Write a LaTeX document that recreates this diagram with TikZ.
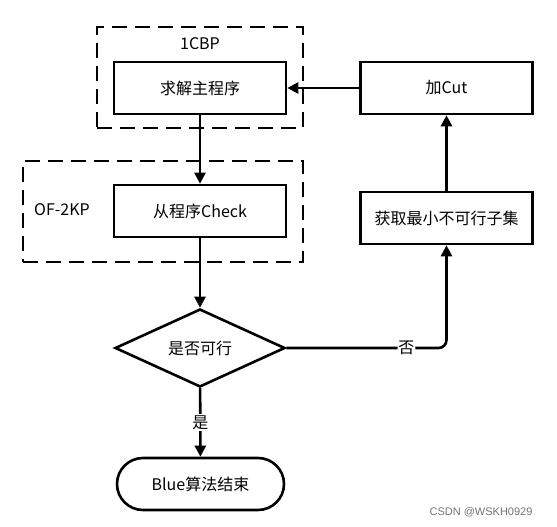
\documentclass[tikz,border=0pt]{standalone}
\usepackage{fontspec}
\setmainfont{Noto Sans CJK SC}
\newfontfamily\wmfont{Liberation Sans}
\usetikzlibrary{shapes.geometric,shapes.misc,arrows.meta}
\begin{document}
\begin{tikzpicture}[x=1pt,y=-1pt,
  every node/.style={font=\fontsize{16}{19}\selectfont},
  procbox/.style={draw,line width=2.6pt,minimum width=172pt,minimum height=52pt,inner sep=0pt},
  groupbox/.style={draw,line width=2.6pt,dash pattern=on 15pt off 8pt},
  decide/.style={draw,line width=2.6pt,diamond,aspect=2.2,minimum width=170pt,minimum height=78pt,inner sep=0pt},
  term/.style={draw,line width=2.6pt,rounded rectangle,minimum width=167pt,minimum height=52pt,inner sep=0pt},
  conn/.style={line width=2.6pt,-{Triangle[length=11pt,width=11pt]}},
  lbl/.style={fill=white,inner sep=1pt}]
\useasboundingbox (0,0) rectangle (557,527);
\node[groupbox,minimum width=206pt,minimum height=101pt,inner sep=0pt] (g1) at (200,77.5) {};
\node (g1l) at (200,44) {1CBP};
\node[groupbox,minimum width=280pt,minimum height=101pt,inner sep=0pt] (g2) at (163,211.5) {};
\node (g2l) at (62,210) {OF-2KP};
\node[procbox] (solve) at (200,88) {求解主程序};
\node[procbox] (check) at (200,211) {从程序Check};
\node[decide] (feas) at (200,348) {是否可行};
\node[term] (endn) at (200.5,484) {Blue算法结束};
\node[procbox] (cut) at (446.5,88) {加Cut};
\node[procbox] (iis) at (446.5,218) {获取最小不可行子集};
\draw[conn] (solve) -- (check);
\draw[conn] (check) -- (feas);
\draw[conn] (feas) -- node[lbl] {是} (endn);
\draw[conn,rounded corners=8pt] (feas.east) -- node[lbl,pos=0.75] {否} (iis.south |- feas.east) -- (iis.south);
\draw[conn] (iis) -- (cut);
\draw[conn] (cut) -- (solve);
\node[font=\wmfont\fontsize{11}{13}\selectfont,text=black!55] (wm) at (481,512) {CSDN @WSKH0929};
\end{tikzpicture}
\end{document}
